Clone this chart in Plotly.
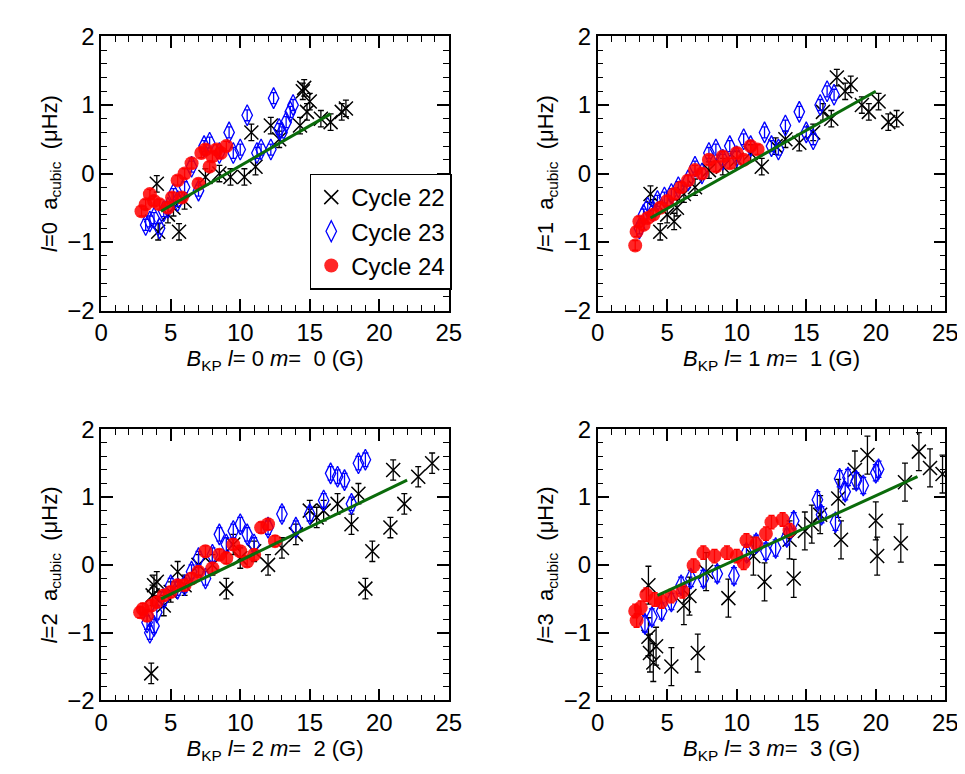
import plotly.graph_objects as go

# ---- data: (x = B_KP in G, y = a_cubic in muHz) ----
# l=0
c22_l0_x = [4.0, 4.1, 4.8, 5.2, 5.6, 6.0, 7.5, 8.5, 9.3, 10.3, 10.8, 11.1, 12.2, 12.8, 14.3, 14.5, 14.6, 14.8, 15.0, 15.8, 16.5, 17.3, 17.6]
c22_l0_y = [-0.15, -0.85, -0.6, -0.5, -0.85, -0.4, -0.05, 0.0, -0.05, -0.05, 0.6, 0.1, 0.7, 0.5, 0.7, 1.2, 1.25, 0.9, 1.05, 0.8, 0.75, 0.9, 0.95]
c23_l0_x = [3.2, 3.5, 3.8, 4.2, 4.5, 4.8, 5.2, 5.5, 6.0, 6.5, 7.0, 7.4, 7.8, 8.5, 9.2, 9.5, 10.0, 10.5, 11.2, 11.5, 12.2, 12.4, 12.8, 13.0, 13.3, 13.6, 13.8]
c23_l0_y = [-0.75, -0.7, -0.65, -0.8, -0.55, -0.5, -0.3, -0.4, -0.2, 0.1, -0.25, 0.4, 0.45, 0.3, 0.6, 0.3, 0.35, 0.85, 0.3, 0.35, 0.35, 1.1, 0.65, 0.6, 0.75, 0.9, 1.0]
c24_l0_x = [2.9, 3.2, 3.5, 3.8, 4.2, 4.8, 5.1, 5.5, 5.8, 6.0, 6.5, 7.0, 7.2, 7.5, 7.8, 8.0, 8.3, 8.6, 9.0]
c24_l0_y = [-0.55, -0.45, -0.3, -0.4, -0.45, -0.5, -0.35, -0.1, -0.35, 0.0, 0.15, -0.15, 0.3, 0.35, 0.1, 0.25, 0.35, 0.3, 0.4]
fit_l0_x = [4.3, 16.5]
fit_l0_y = [-0.55, 0.87]

# l=1
c22_l1_x = [3.8, 4.0, 4.5, 5.0, 5.5, 5.7, 6.2, 7.0, 8.0, 9.0, 10.0, 11.0, 11.8, 12.8, 13.5, 14.5, 15.5, 16.2, 16.8, 17.2, 17.8, 18.2, 19.0, 19.5, 20.2, 20.9, 21.5]
c22_l1_y = [-0.3, -0.5, -0.85, -0.6, -0.7, -0.5, -0.3, -0.2, 0.05, 0.1, 0.2, 0.3, 0.1, 0.4, 0.5, 0.45, 0.6, 0.9, 0.8, 1.4, 1.2, 1.3, 1.0, 0.9, 1.05, 0.75, 0.8]
c23_l1_x = [3.0, 3.3, 3.6, 4.0, 4.3, 4.8, 5.3, 5.8, 6.5, 7.0, 7.5, 8.0, 8.5, 9.0, 9.5, 10.0, 10.5, 11.0, 12.0, 12.5, 13.0, 13.5, 14.5, 15.0, 15.5, 16.0, 16.5, 17.0]
c23_l1_y = [-0.8, -0.6, -0.5, -0.55, -0.4, -0.35, -0.3, -0.2, -0.1, 0.1, 0.0, 0.3, 0.35, 0.2, 0.4, 0.25, 0.5, 0.4, 0.6, 0.4, 0.35, 0.7, 0.9, 0.6, 0.5, 1.0, 1.2, 1.15]
c24_l1_x = [2.7, 2.8, 3.0, 3.3, 3.6, 4.0, 4.5, 5.0, 5.5, 6.0, 6.5, 7.0, 7.5, 8.0, 8.5, 9.0, 9.5, 10.0, 10.5, 11.0, 11.5]
c24_l1_y = [-1.05, -0.85, -0.7, -0.75, -0.65, -0.6, -0.5, -0.4, -0.3, -0.2, -0.1, 0.05, 0.0, 0.2, 0.1, 0.25, 0.15, 0.3, 0.2, 0.4, 0.35]
fit_l1_x = [3.8, 20.0]
fit_l1_y = [-0.65, 1.2]

# l=2
c22_l2_x = [3.6, 3.7, 3.8, 4.0, 4.5, 5.0, 5.5, 6.0, 7.0, 8.0, 9.0, 9.5, 10.0, 11.0, 12.0, 13.0, 14.0, 15.0, 15.5, 16.0, 17.0, 18.0, 18.5, 19.0, 19.5, 20.8, 21.0, 21.8, 22.8, 23.8]
c22_l2_y = [-1.6, -0.45, -0.3, -0.25, -0.6, -0.4, -0.1, -0.3, 0.0, 0.0, -0.35, 0.3, 0.1, 0.2, 0.0, 0.25, 0.45, 0.8, 0.7, 0.8, 0.9, 0.6, 1.05, -0.35, 0.2, 0.55, 1.4, 0.9, 1.3, 1.5]
c23_l2_x = [3.3, 3.5, 3.8, 4.0, 4.5, 5.0, 5.5, 6.0, 6.5, 7.0, 7.5, 8.0, 8.5, 9.0, 9.5, 10.0, 10.5, 11.0, 12.0, 13.0, 14.0, 15.0, 16.0, 16.5, 17.0, 17.5, 18.0, 18.5, 19.0]
c23_l2_y = [-0.85, -1.0, -0.9, -0.7, -0.5, -0.3, -0.35, -0.3, -0.1, 0.1, -0.2, 0.15, 0.45, 0.3, 0.5, 0.6, 0.45, 0.3, 0.55, 0.75, 0.55, 0.75, 0.95, 1.35, 1.3, 1.25, 0.9, 1.5, 1.55]
c24_l2_x = [2.8, 3.0, 3.3, 3.6, 4.0, 4.5, 5.0, 5.5, 6.0, 6.5, 7.0, 7.5, 8.0, 8.5, 9.0, 9.5, 10.0, 10.5, 11.0, 11.5, 12.0, 12.5]
c24_l2_y = [-0.7, -0.65, -0.75, -0.6, -0.55, -0.45, -0.4, -0.3, -0.3, -0.2, -0.1, 0.2, -0.05, 0.15, 0.1, 0.3, 0.2, 0.05, 0.15, 0.55, 0.6, 0.35]
fit_l2_x = [4.3, 22.0]
fit_l2_y = [-0.5, 1.25]

# l=3
c22_l3_x = [3.65, 3.65, 3.76, 4.0, 4.2, 5.3, 6.2, 6.6, 7.2, 7.8, 9.4, 11.2, 12.0, 14.1, 13.8, 14.9, 15.4, 16.0, 17.3, 17.5, 18.5, 19.4, 20.0, 20.1, 21.8, 22.1, 23.1, 23.9, 24.8]
c22_l3_y = [-0.3, -1.06, -1.3, -1.44, -1.2, -1.5, -0.6, -0.46, -1.3, -0.1, -0.49, 0.13, -0.25, -0.2, 0.37, 0.5, 0.6, 0.74, 0.98, 0.37, 1.4, 1.62, 0.65, 0.13, 0.32, 1.22, 1.67, 1.43, 1.34]
c23_l3_x = [3.4, 3.9, 4.6, 5.3, 6.0, 6.7, 7.6, 8.6, 9.8, 10.7, 11.4, 12.1, 12.8, 13.6, 14.1, 15.8, 16.1, 17.1, 17.4, 17.8, 18.0, 18.6, 19.1, 20.0, 20.2]
c23_l3_y = [-0.87, -0.77, -0.68, -0.54, -0.3, -0.2, -0.2, -0.13, -0.16, 0.18, 0.32, 0.2, 0.25, 0.41, 0.65, 0.96, 0.74, 0.63, 1.27, 1.08, 1.29, 1.24, 1.17, 1.36, 1.41]
c24_l3_x = [2.7, 2.8, 3.1, 3.5, 4.1, 4.6, 5.3, 6.1, 6.9, 7.6, 8.4, 9.3, 10.0, 10.5, 10.7, 11.4, 12.1, 12.5, 13.3, 13.8]
c24_l3_y = [-0.68, -0.82, -0.63, -0.44, -0.51, -0.54, -0.46, -0.39, -0.01, 0.18, 0.13, 0.18, 0.13, 0.03, 0.36, 0.31, 0.46, 0.63, 0.67, 0.51]
fit_l3_x = [4.3, 23.0]
fit_l3_y = [-0.45, 1.3]

# per-panel error bar half-widths (cycle 22, 23, 24)
err_22 = [0.12, 0.12, 0.15, 0.28]
err_23 = [0.08, 0.08, 0.1, 0.12]
err_24 = [0.07, 0.07, 0.08, 0.1]

panels = [
    (c22_l0_x, c22_l0_y, c23_l0_x, c23_l0_y, c24_l0_x, c24_l0_y, fit_l0_x, fit_l0_y),
    (c22_l1_x, c22_l1_y, c23_l1_x, c23_l1_y, c24_l1_x, c24_l1_y, fit_l1_x, fit_l1_y),
    (c22_l2_x, c22_l2_y, c23_l2_x, c23_l2_y, c24_l2_x, c24_l2_y, fit_l2_x, fit_l2_y),
    (c22_l3_x, c22_l3_y, c23_l3_x, c23_l3_y, c24_l3_x, c24_l3_y, fit_l3_x, fit_l3_y),
]

W, H = 965, 774
# pixel boxes of the four plot areas: (left, right, top, bottom)
boxes = [(88, 443, 15, 299), (595, 950, 15, 299), (88, 443, 422, 703), (595, 950, 422, 703)]

FONT = 'Liberation Sans'
fig = go.Figure()
axes = {}

for i, (x22, y22, x23, y23, x24, y24, fx, fy) in enumerate(panels):
    xa = 'x' if i == 0 else f'x{i + 1}'
    ya = 'y' if i == 0 else f'y{i + 1}'
    first = i == 0
    fig.add_trace(go.Scatter(x=x22, y=y22, mode='markers', name='Cycle 22', showlegend=first,
                             xaxis=xa, yaxis=ya,
                             marker=dict(symbol='x-thin-open', size=14, color='black',
                                         line=dict(color='black', width=1.5)),
                             error_y=dict(type='constant', value=err_22[i], color='black',
                                          thickness=1.3, width=3)))
    fig.add_trace(go.Scatter(x=x23, y=y23, mode='markers', name='Cycle 23', showlegend=first,
                             xaxis=xa, yaxis=ya,
                             marker=dict(symbol='diamond-tall-open', size=15, color='blue',
                                         line=dict(color='blue', width=1.3)),
                             error_y=dict(type='constant', value=err_23[i], color='blue',
                                          thickness=1.3, width=3)))
    fig.add_trace(go.Scatter(x=x24, y=y24, mode='markers', name='Cycle 24', showlegend=first,
                             xaxis=xa, yaxis=ya,
                             marker=dict(symbol='circle', size=14, color='red', opacity=0.85),
                             error_y=dict(type='constant', value=err_24[i], color='red',
                                          thickness=1.3, width=3)))
    fig.add_trace(go.Scatter(x=fx, y=fy, mode='lines', showlegend=False, xaxis=xa, yaxis=ya,
                             line=dict(color='#0a6b0a', width=3)))

    l, r, t, b = boxes[i]
    xname = 'xaxis' if i == 0 else f'xaxis{i + 1}'
    yname = 'yaxis' if i == 0 else f'yaxis{i + 1}'
    axes[xname] = dict(
        domain=[l / W, r / W], range=[0, 25], dtick=5, tick0=0, anchor=ya,
        minor=dict(dtick=1),
        title=dict(text=f'<i>B</i><sub>KP</sub> <i>l</i>= {i} <i>m</i>=  {i} (G)', standoff=4))
    axes[yname] = dict(
        domain=[1 - b / H, 1 - t / H], range=[-2, 2], dtick=1, tick0=0, anchor=xa,
        minor=dict(dtick=0.2),
        title=dict(text=f'<i>l</i>={i}  a<sub>cubic</sub>  (μHz)', standoff=4))

fig.update_layout(**axes)
for upd in (fig.update_xaxes, fig.update_yaxes):
    upd(showline=True, linecolor='black', linewidth=1.5, mirror='allticks',
        ticks='inside', ticklen=12, tickwidth=1.5, tickcolor='black',
        showgrid=False, zeroline=False,
        tickfont=dict(family=FONT, size=24, color='black'),
        title_font=dict(family=FONT, size=22, color='black'),
        minor_ticks='inside', minor_ticklen=6, minor_tickwidth=1, minor_tickcolor='black',
        minor_showgrid=False)

fig.update_layout(
    template='simple_white',
    width=W, height=H, margin=dict(l=0, r=0, t=0, b=0),
    paper_bgcolor='white', plot_bgcolor='white',
    font=dict(family=FONT, size=22, color='black'),
    legend=dict(x=301 / W, y=1 - 157 / H, xanchor='left', yanchor='top',
                bordercolor='black', borderwidth=1.5, bgcolor='white',
                font=dict(family=FONT, size=24), itemwidth=30, tracegroupgap=0),
)

fig.write_html('out.html')
